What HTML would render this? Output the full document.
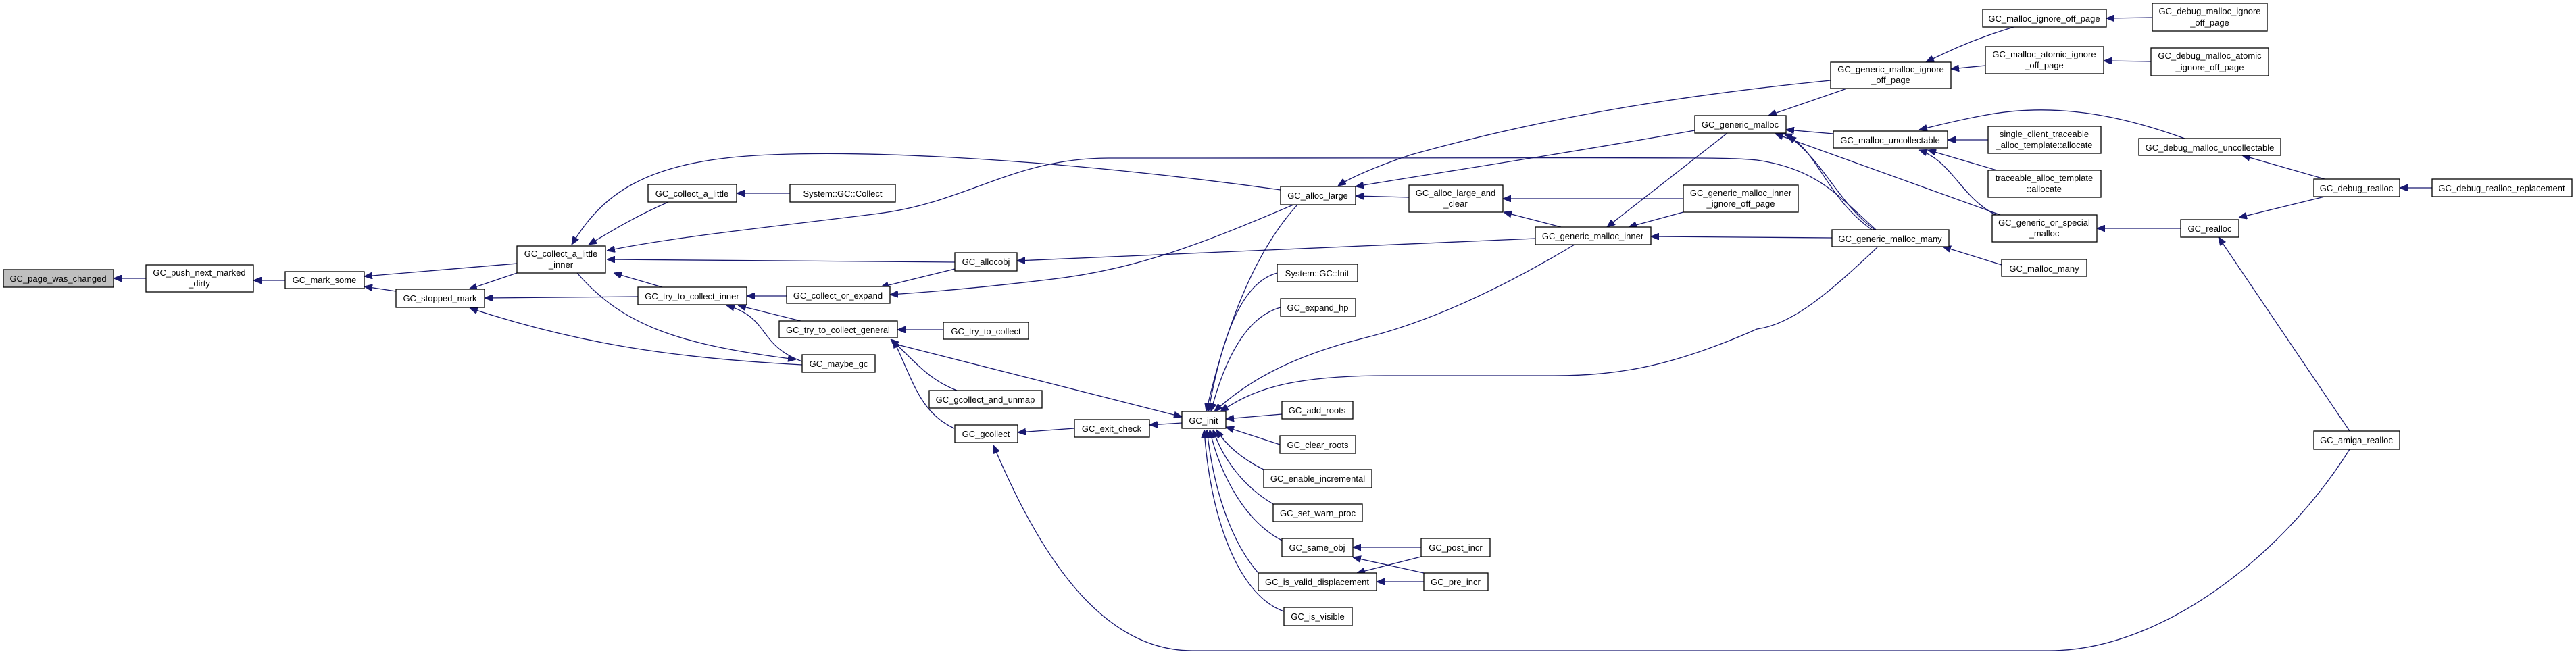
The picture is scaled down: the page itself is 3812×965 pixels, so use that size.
<!DOCTYPE html>
<html><head><meta charset="utf-8"><style>
html,body{margin:0;padding:0;background:#fff;width:3812px;height:965px;overflow:hidden}
svg{display:block}
text{font-family:"Liberation Sans",Arial,sans-serif;font-size:13px;fill:#000;text-anchor:middle}
.n{fill:#fff;stroke:#000;stroke-width:1.3}
.e{fill:none;stroke:#191970;stroke-width:1.3}
</style></head><body>
<svg width="3812" height="965" viewBox="0 0 3812 965" xmlns="http://www.w3.org/2000/svg">
<defs><marker id="a" markerWidth="12" markerHeight="10" refX="12" refY="5" orient="auto" markerUnits="userSpaceOnUse"><path d="M0,0 L12,5 L0,10 Z" fill="#191970" stroke="#191970"/></marker></defs>
<g class="e" marker-end="url(#a)">
<path d="M216,412 L168,412"/>
<path d="M422,415 L375,415"/>
<path d="M765,390 L539,409"/>
<path d="M586,431 L539,424"/>
<path d="M765,404 L694,428"/>
<path d="M944,439 L717,441"/>
<path d="M1187,540 C1000,530 860,510 695,456"/>
<path d="M989,299 C940,320 900,345 871,362"/>
<path d="M1169,286 L1090,286"/>
<path d="M1895,281 C1600,240 1300,220 1120,230 C950,240 890,290 846,362"/>
<path d="M2776,340 C2720,290 2690,250 2600,237 C2550,232 2500,234 1640,234 C1500,234 1430,300 1300,316 C1150,335 1000,350 898,371"/>
<path d="M1413,388 L898,384"/>
<path d="M980,425 L908,404"/>
<path d="M854,404 C920,480 1000,510 1178,532"/>
<path d="M1187,535 C1120,510 1140,470 1075,452"/>
<path d="M1164,438 L1105,438"/>
<path d="M1185,475 L1092,452"/>
<path d="M1396,488 L1328,488"/>
<path d="M1416,578 C1370,560 1350,530 1318,502"/>
<path d="M1412,634 C1360,610 1350,560 1322,503"/>
<path d="M1320,508 L1749,617"/>
<path d="M1590,634 L1506,640"/>
<path d="M1749,626 L1701,629"/>
<path d="M1920,303 C1850,380 1810,500 1785,609"/>
<path d="M1890,404 C1830,420 1805,520 1788,609"/>
<path d="M1895,455 C1840,470 1810,540 1792,609"/>
<path d="M2330,362 C2200,440 2100,480 2020,500 C1900,530 1840,570 1797,609"/>
<path d="M2778,366 C2700,440 2650,480 2600,487 C2480,540 2400,556 2300,556 L2050,556 C1900,556 1850,580 1806,609"/>
<path d="M1897,613 L1814,620"/>
<path d="M1894,658 L1814,632"/>
<path d="M1870,695 C1840,680 1815,660 1800,636"/>
<path d="M1884,746 C1840,720 1810,680 1795,636"/>
<path d="M1897,800 C1840,770 1805,700 1790,636"/>
<path d="M1862,848 C1820,800 1795,720 1786,636"/>
<path d="M1900,905 C1830,880 1790,760 1782,636"/>
<path d="M1413,398 L1303,425"/>
<path d="M1914,303 C1780,360 1680,400 1550,414 C1450,426 1380,432 1317,436"/>
<path d="M2272,353 L1505,386"/>
<path d="M2085,292 L2006,290"/>
<path d="M2508,193 C2300,230 2100,260 2006,276"/>
<path d="M2709,119 C2500,140 2300,170 2088,229 C2040,245 2000,262 1980,275"/>
<path d="M2491,294 L2224,294"/>
<path d="M2310,336 L2225,314"/>
<path d="M2556,197 L2378,336"/>
<path d="M2491,314 L2410,336"/>
<path d="M2711,352 L2443,350"/>
<path d="M2980,40 C2930,55 2890,72 2850,92"/>
<path d="M2938,97 L2887,102"/>
<path d="M3185,26 L3117,27"/>
<path d="M3183,91 L3113,90"/>
<path d="M2733,131 L2617,171"/>
<path d="M2713,198 L2643,192"/>
<path d="M2960,318 L2627,198"/>
<path d="M2774,340 C2720,300 2700,240 2646,201"/>
<path d="M2770,340 C2700,290 2690,220 2640,198"/>
<path d="M2942,207 L2882,207"/>
<path d="M2955,252 L2853,222"/>
<path d="M2953,318 C2900,290 2890,240 2840,222"/>
<path d="M3233,205 C3150,175 3050,150 2940,170 C2900,177 2870,185 2840,192"/>
<path d="M3440,265 L3318,230"/>
<path d="M3599,278 L3551,278"/>
<path d="M3227,338 L3103,338"/>
<path d="M3440,291 L3313,322"/>
<path d="M3477,638 L3283,351"/>
<path d="M3477,665 C3380,820 3200,963 3033,963 L1764,963 C1620,963 1530,800 1470,659"/>
<path d="M2962,392 L2875,365"/>
<path d="M2103,810 L2002,810"/>
<path d="M2107,848 L2002,825"/>
<path d="M2103,824 L2008,848"/>
<path d="M2107,861 L2037,861"/>
</g>
<g>
<rect class="n" x="5" y="399" width="163" height="26" style="fill:#bfbfbf"/><text x="86" y="417">GC_page_was_changed</text>
<rect class="n" x="216" y="392" width="159" height="40"/><text x="295" y="408">GC_push_next_marked</text><text x="295" y="424">_dirty</text>
<rect class="n" x="422" y="402" width="117" height="25"/><text x="480" y="419">GC_mark_some</text>
<rect class="n" x="586" y="428" width="131" height="27"/><text x="651" y="446">GC_stopped_mark</text>
<rect class="n" x="765" y="364" width="131" height="40"/><text x="830" y="380">GC_collect_a_little</text><text x="830" y="396">_inner</text>
<rect class="n" x="959" y="273" width="131" height="26"/><text x="1024" y="291">GC_collect_a_little</text>
<rect class="n" x="1169" y="273" width="156" height="26"/><text x="1247" y="291">System::GC::Collect</text>
<rect class="n" x="944" y="425" width="161" height="26"/><text x="1024" y="443">GC_try_to_collect_inner</text>
<rect class="n" x="1164" y="424" width="153" height="25"/><text x="1240" y="442">GC_collect_or_expand</text>
<rect class="n" x="1153" y="475" width="175" height="25"/><text x="1240" y="493">GC_try_to_collect_general</text>
<rect class="n" x="1187" y="525" width="108" height="26"/><text x="1241" y="543">GC_maybe_gc</text>
<rect class="n" x="1895" y="276" width="111" height="27"/><text x="1950" y="294">GC_alloc_large</text>
<rect class="n" x="2085" y="274" width="139" height="40"/><text x="2154" y="290">GC_alloc_large_and</text><text x="2154" y="306">_clear</text>
<rect class="n" x="2272" y="336" width="171" height="26"/><text x="2357" y="354">GC_generic_malloc_inner</text>
<rect class="n" x="1413" y="374" width="92" height="27"/><text x="1459" y="392">GC_allocobj</text>
<rect class="n" x="1890" y="391" width="119" height="26"/><text x="1949" y="409">System::GC::Init</text>
<rect class="n" x="1895" y="442" width="111" height="26"/><text x="1950" y="460">GC_expand_hp</text>
<rect class="n" x="1396" y="477" width="126" height="25"/><text x="1459" y="495">GC_try_to_collect</text>
<rect class="n" x="1375" y="578" width="167" height="26"/><text x="1458" y="596">GC_gcollect_and_unmap</text>
<rect class="n" x="1413" y="629" width="93" height="26"/><text x="1459" y="647">GC_gcollect</text>
<rect class="n" x="1590" y="621" width="111" height="26"/><text x="1645" y="639">GC_exit_check</text>
<rect class="n" x="1749" y="609" width="65" height="25"/><text x="1781" y="627">GC_init</text>
<rect class="n" x="1897" y="594" width="105" height="26"/><text x="1949" y="612">GC_add_roots</text>
<rect class="n" x="1894" y="645" width="112" height="26"/><text x="1950" y="663">GC_clear_roots</text>
<rect class="n" x="1870" y="695" width="160" height="27"/><text x="1950" y="713">GC_enable_incremental</text>
<rect class="n" x="1884" y="746" width="132" height="26"/><text x="1950" y="764">GC_set_warn_proc</text>
<rect class="n" x="1897" y="797" width="105" height="27"/><text x="1949" y="815">GC_same_obj</text>
<rect class="n" x="2103" y="797" width="102" height="27"/><text x="2154" y="815">GC_post_incr</text>
<rect class="n" x="1862" y="848" width="175" height="26"/><text x="1949" y="866">GC_is_valid_displacement</text>
<rect class="n" x="2107" y="848" width="95" height="26"/><text x="2154" y="866">GC_pre_incr</text>
<rect class="n" x="1900" y="899" width="101" height="27"/><text x="1950" y="917">GC_is_visible</text>
<rect class="n" x="2508" y="171" width="135" height="26"/><text x="2575" y="189">GC_generic_malloc</text>
<rect class="n" x="2491" y="274" width="170" height="40"/><text x="2576" y="290">GC_generic_malloc_inner</text><text x="2576" y="306">_ignore_off_page</text>
<rect class="n" x="2934" y="14" width="183" height="26"/><text x="3025" y="32">GC_malloc_ignore_off_page</text>
<rect class="n" x="3185" y="5" width="170" height="41"/><text x="3270" y="21">GC_debug_malloc_ignore</text><text x="3270" y="38">_off_page</text>
<rect class="n" x="2938" y="69" width="175" height="40"/><text x="3025" y="85">GC_malloc_atomic_ignore</text><text x="3025" y="101">_off_page</text>
<rect class="n" x="3183" y="71" width="174" height="41"/><text x="3270" y="87">GC_debug_malloc_atomic</text><text x="3270" y="104">_ignore_off_page</text>
<rect class="n" x="2709" y="92" width="178" height="39"/><text x="2798" y="107">GC_generic_malloc_ignore</text><text x="2798" y="123">_off_page</text>
<rect class="n" x="2713" y="194" width="169" height="25"/><text x="2797" y="212">GC_malloc_uncollectable</text>
<rect class="n" x="2942" y="187" width="167" height="40"/><text x="3025" y="203">single_client_traceable</text><text x="3025" y="219">_alloc_template::allocate</text>
<rect class="n" x="2942" y="252" width="167" height="40"/><text x="3025" y="268">traceable_alloc_template</text><text x="3025" y="284">::allocate</text>
<rect class="n" x="3165" y="205" width="210" height="25"/><text x="3270" y="223">GC_debug_malloc_uncollectable</text>
<rect class="n" x="3424" y="265" width="127" height="26"/><text x="3487" y="283">GC_debug_realloc</text>
<rect class="n" x="3599" y="265" width="207" height="26"/><text x="3702" y="283">GC_debug_realloc_replacement</text>
<rect class="n" x="2948" y="318" width="155" height="40"/><text x="3025" y="334">GC_generic_or_special</text><text x="3025" y="350">_malloc</text>
<rect class="n" x="3227" y="325" width="86" height="26"/><text x="3270" y="343">GC_realloc</text>
<rect class="n" x="2711" y="340" width="173" height="25"/><text x="2797" y="358">GC_generic_malloc_many</text>
<rect class="n" x="2962" y="384" width="126" height="25"/><text x="3025" y="402">GC_malloc_many</text>
<rect class="n" x="3424" y="638" width="127" height="27"/><text x="3487" y="656">GC_amiga_realloc</text>
</g>
</svg>
</body></html>
